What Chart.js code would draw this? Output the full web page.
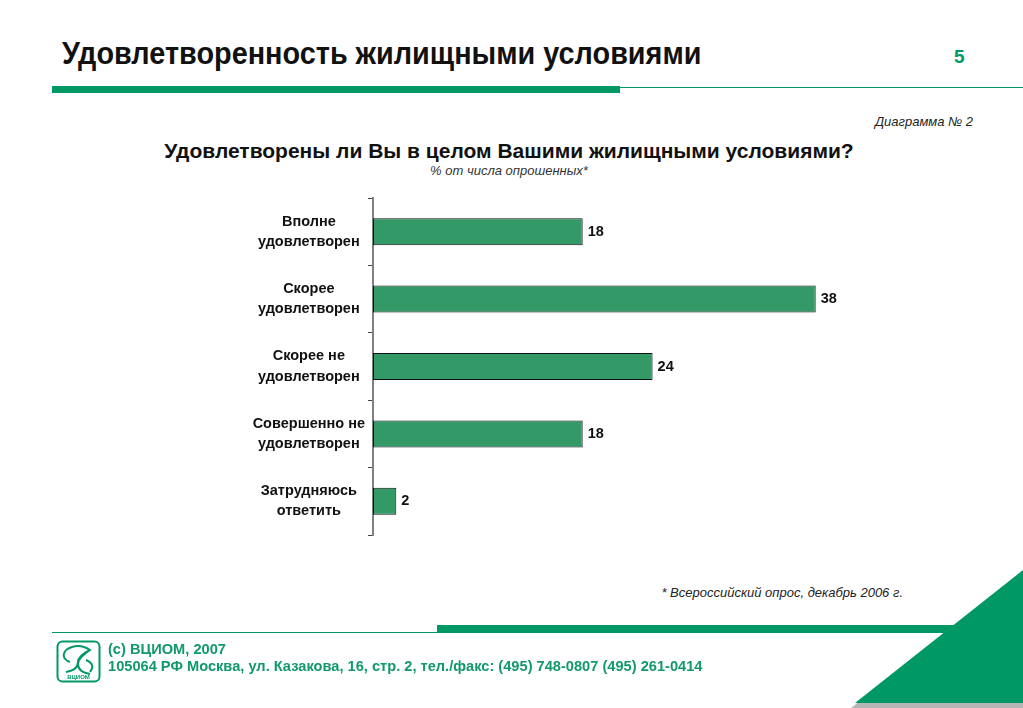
<!DOCTYPE html>
<html>
<head>
<meta charset="utf-8">
<script src="https://cdn.jsdelivr.net/npm/chart.js@4/dist/chart.umd.min.js"></script>
<style>
  body { margin: 0; background: #fff; }
  #page { position: relative; width: 1023px; height: 708px; overflow: hidden; font-family: "Liberation Sans", Arial, sans-serif; }
  .abs { position: absolute; white-space: nowrap; }
  #title { left: 62px; top: 36px; font-weight: bold; font-size: 31px; color: #111; transform: scaleX(0.93); transform-origin: left top; }
  #pnum { left: 954px; top: 46px; font-weight: bold; font-size: 19px; color: #009966; }
  #diag { right: 50px; top: 114px; font-style: italic; font-size: 13px; color: #222; }
  #ctitle { left: 0; width: 1018px; text-align: center; top: 139px; font-weight: bold; font-size: 21px; color: #111; }
  #csub { left: 0; width: 1018px; text-align: center; top: 163px; font-style: italic; font-size: 13px; color: #333; }
  #note { right: 120px; top: 585px; font-style: italic; font-size: 13px; color: #222; }
  .foot { left: 108px; font-weight: bold; font-size: 15px; color: #12996a; transform: scaleX(0.975); transform-origin: left top; }
  #chartBox { position: absolute; left: 220px; top: 190px; width: 660px; height: 360px; }
</style>
</head>
<body>
<div id="page">
  <div class="abs" id="title">Удовлетворенность жилищными условиями</div>
  <div class="abs" id="pnum">5</div>
  <div class="abs" style="left:52px;top:86px;width:568px;height:7px;background:#009966"></div>
  <div class="abs" style="left:620px;top:87px;width:403px;height:1px;background:#009966"></div>
  <div class="abs" id="diag">Диаграмма № 2</div>
  <div class="abs" id="ctitle">Удовлетворены ли Вы в целом Вашими жилищными условиями?</div>
  <div class="abs" id="csub">% от числа опрошенных*</div>
  <div id="chartBox"><canvas id="myChart" width="660" height="360"></canvas></div>
  <div class="abs" id="note">* Всероссийский опрос, декабрь 2006 г.</div>

  <div class="abs" style="left:52px;top:632px;width:385px;height:1px;background:#009966"></div>
  <div class="abs" style="left:437px;top:625px;width:520px;height:8px;background:#009966"></div>
  <svg class="abs" style="left:0;top:0" width="1023" height="708">
    <polygon points="1023,576 851,708 1023,708" fill="#b5b5b5"/>
    <polygon points="1023,570 855,703 1023,703" fill="#009966"/>
    <rect x="57.5" y="641.5" width="42" height="40" rx="5" fill="none" stroke="#009966" stroke-width="2"/>
    <path d="M66 650 q12 -8 24 0 q-12 8 -12 14 q0 8 12 10 M90 650 q-12 6 -12 12 q0 8 -12 10 M66 650 q-6 8 4 12 M90 672 q6 -8 -4 -12" fill="none" stroke="#009966" stroke-width="2"/>
    <text x="78.5" y="679" font-size="6" font-weight="bold" text-anchor="middle" fill="#009966" font-family="Liberation Sans, sans-serif">ВЦИОМ</text>
  </svg>
  <div class="abs foot" style="top:640px">(с) ВЦИОМ, 2007</div>
  <div class="abs foot" style="top:657px">105064 РФ Москва, ул. Казакова, 16, стр. 2, тел./факс: (495) 748-0807 (495) 261-0414</div>
</div>
<script>
const categories = [
    ["Вполне", "удовлетворен"],
    ["Скорее", "удовлетворен"],
    ["Скорее не", "удовлетворен"],
    ["Совершенно не", "удовлетворен"],
    ["Затрудняюсь", "ответить"]
];
const values = [18, 38, 24, 18, 2];
const xMax = 40;

const valueLabels = {
    id: "valueLabels",
    afterDatasetsDraw(chart) {
        const ctx = chart.ctx;
        const meta = chart.getDatasetMeta(0);
        ctx.save();
        ctx.font = "bold 14.5px 'Liberation Sans', Arial, sans-serif";
        ctx.fillStyle = "#111";
        ctx.textAlign = "left";
        ctx.textBaseline = "middle";
        meta.data.forEach((bar, i) => {
            ctx.fillText(values[i], bar.x + 5, bar.y);
        });
        ctx.restore();
    }
};

const graphic = document.getElementById("myChart").getContext("2d");
new Chart(graphic, {
    type: "bar",
    data: {
        labels: categories,
        datasets: [{
            data: values,
            backgroundColor: "#339966",
            borderColor: "#111",
            borderWidth: 1,
            borderSkipped: false,
            barPercentage: 0.4,
            categoryPercentage: 1.0
        }]
    },
    options: {
        indexAxis: "y",
        responsive: false,
        animation: false,
        layout: { padding: { top: 8, bottom: 15, right: 41, left: 0 } },
        plugins: { legend: { display: false }, tooltip: { enabled: false } },
        scales: {
            x: { display: false, min: 0, max: xMax },
            y: {
                afterFit(scale) {
                    scale.width = 153;
                    scale.paddingTop = 0;
                    scale.paddingBottom = 0;
                },
                border: { display: true, color: "#808080", width: 2 },
                grid: { drawOnChartArea: false, tickLength: 5, tickColor: "#444", offset: true },
                ticks: {
                    crossAlign: "center",
                    padding: 3,
                    color: "#111",
                    font: { family: "'Liberation Sans', Arial, sans-serif", size: 14.5, weight: "bold", lineHeight: 1.38 }
                }
            }
        }
    },
    plugins: [valueLabels]
});
</script>
</body>
</html>
